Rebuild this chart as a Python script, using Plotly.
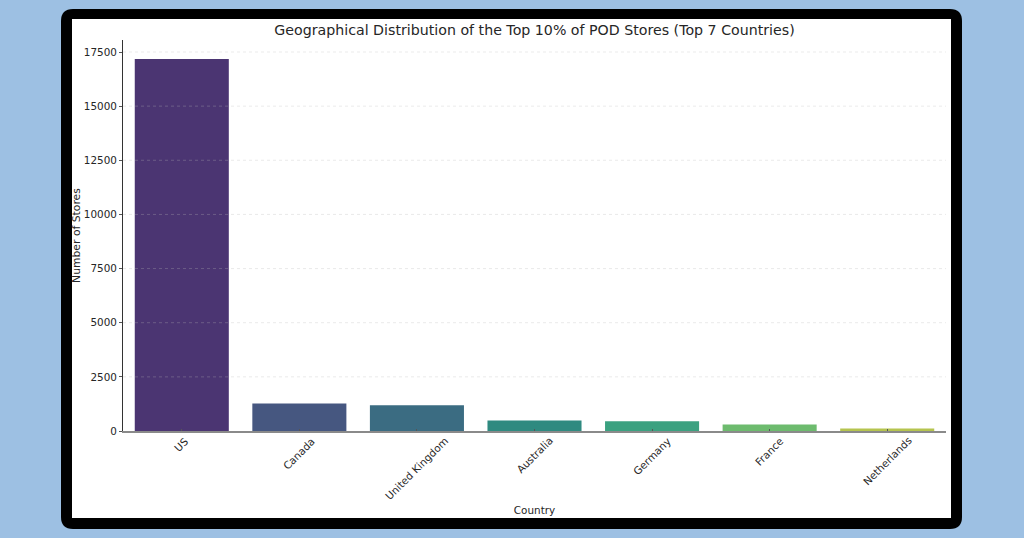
import plotly.graph_objects as go

countries = ["US", "Canada", "United Kingdom", "Australia", "Germany", "France", "Netherlands"]
stores = [17180, 1270, 1190, 480, 450, 300, 110]
bar_colors = ["#4b3572", "#465780", "#3b6c82", "#2f8a80", "#3ba180", "#6dbb6e", "#b5c44f"]
y_ticks = [0, 2500, 5000, 7500, 10000, 12500, 15000, 17500]

W, H = 1024, 538
L, R, T, B = 123, 946, 40, 431
px = lambda x: (x - L) / (R - L)
py = lambda y: (B - y) / (B - T)


def round_rect(x0, y0, x1, y1, r):
    a, b, c, d = px(x0), px(x1), py(y0), py(y1)
    rx, ry = r / (R - L), r / (B - T)
    return (f"M{a+rx},{c} L{b-rx},{c} Q{b},{c} {b},{c-ry} L{b},{d+ry} Q{b},{d} {b-rx},{d} "
            f"L{a+rx},{d} Q{a},{d} {a},{d+ry} L{a},{c-ry} Q{a},{c} {a+rx},{c} Z")


fig = go.Figure(go.Bar(
    x=countries, y=stores, width=0.8,
    marker=dict(color=bar_colors, line=dict(width=0)),
    showlegend=False,
))

shapes = [
    dict(type="path", xref="paper", yref="paper", layer="below", line=dict(width=0),
         fillcolor="#000000", path=round_rect(61, 9, 962, 529, 12)),
    dict(type="rect", xref="paper", yref="paper", layer="below", line=dict(width=0),
         fillcolor="#ffffff", x0=px(72), x1=px(951), y0=py(518), y1=py(19)),
]
for t in y_ticks[1:]:
    shapes.append(dict(type="line", xref="paper", yref="y", layer="above",
                       x0=0, x1=1, y0=t, y1=t,
                       line=dict(color="rgba(185,185,185,0.3)", width=1, dash="dot")))

# Category labels are centred on their ticks, which axis tick labels cannot do when rotated
annotations = [
    dict(text=c, x=c, xref="x", y=0, yref="paper", yanchor="top", xanchor="center",
         yshift=-1, textangle=-45, showarrow=False, font=dict(size=10.4, color="#262626"))
    for c in countries
]

fig.update_layout(
    width=W, height=H,
    margin=dict(l=L, r=W - R, t=T, b=H - B, pad=0),
    paper_bgcolor="#9dc0e3",
    plot_bgcolor="rgba(0,0,0,0)",
    font=dict(family="DejaVu Sans", color="#262626", size=10.4),
    title=dict(text="Geographical Distribution of the Top 10% of POD Stores (Top 7 Countries)",
               x=0.5, xref="paper", xanchor="center", y=1 - 30 / H, yref="container",
               yanchor="middle", font=dict(size=14.2, color="#262626")),
    bargap=0.2,
    shapes=shapes,
    annotations=annotations,
    xaxis=dict(
        type="category", range=[-0.5, 6.5], ticks="inside", ticklen=2, tickcolor="#555555",
        showticklabels=False, showgrid=False,
        showline=True, linecolor="#8a8a8a", linewidth=1.5, automargin=False,
        title=dict(text="Country", standoff=75, font=dict(size=10.4)),
    ),
    yaxis=dict(
        range=[0, 18054], tickvals=y_ticks, ticktext=[str(t) for t in y_ticks],
        ticks="outside", ticklen=3, tickwidth=1, tickcolor="#555555", showgrid=False, zeroline=False,
        showline=True, linecolor="#333333", linewidth=1, automargin=False,
        tickfont=dict(size=10.4),
        title=dict(text="Number of Stores", standoff=1, font=dict(size=10.8)),
    ),
)

fig.write_html("out.html", post_script="document.body.style.margin='0';",
               config=dict(displayModeBar=False))
